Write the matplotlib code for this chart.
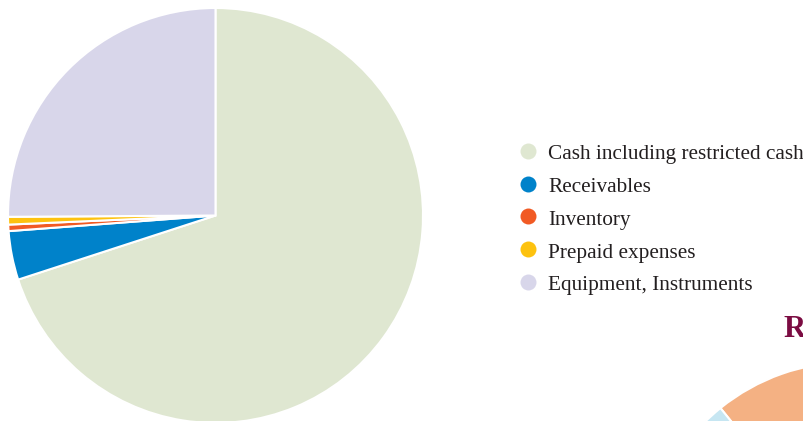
import matplotlib
matplotlib.use("Agg")
import matplotlib.pyplot as plt

# ---- data ----
categories = ["Cash including restricted cash", "Receivables", "Inventory",
              "Prepaid expenses", "Equipment, Instruments"]
values = [70.0, 3.8, 0.5, 0.6, 25.1]
colors = ["#dfe7d1", "#0082ca", "#f15a24", "#fdc20f", "#d8d6ea"]

# partially visible second chart (bottom right)
second_title = "R"
second_values = [10.8, 30.0, 59.2]
second_colors = ["#f4b183", "#c6e6f2", "#e9e9e9"]

W, H = 804, 421
fig = plt.figure(figsize=(W / 100, H / 100), dpi=100)
fig.patch.set_facecolor("white")

def px_axes(cx, cy, r):
    left = (cx - r) / W
    bottom = (H - (cy + r)) / H
    return fig.add_axes([left, bottom, 2 * r / W, 2 * r / H])

# main pie
ax = px_axes(215.5, 215.5, 207.5)
ax.pie(values, colors=colors, startangle=90, counterclock=False,
       wedgeprops=dict(edgecolor="white", linewidth=1.5))
ax.set_xlim(-1, 1)
ax.set_ylim(-1, 1)
ax.set_aspect("equal")
ax.axis("off")

# second pie (mostly off-canvas)
ax2 = px_axes(851, 570, 208)
ax2.pie(second_values, colors=second_colors, startangle=90, counterclock=True,
        wedgeprops=dict(edgecolor="white", linewidth=1.5))
ax2.set_xlim(-1, 1)
ax2.set_ylim(-1, 1)
ax2.set_aspect("equal")
ax2.axis("off")

# legend overlay in pixel coordinates
ov = fig.add_axes([0, 0, 1, 1])
ov.set_xlim(0, W)
ov.set_ylim(H, 0)
ov.axis("off")
ov.patch.set_alpha(0)

font = ["Liberation Serif", "DejaVu Serif"]
for i, (lab, col) in enumerate(zip(categories, colors)):
    yc = 150.7 + 32.8 * i
    ov.plot([528], [yc], marker="o", markersize=11.5, color=col,
            markeredgewidth=0, linestyle="none")
    ov.text(548, yc + 8.5, lab, fontsize=15.3, family=font, color="#231f20",
            va="baseline", ha="left")

ov.text(783, 337, second_title, fontsize=22, family=font, fontweight="bold",
        color="#7b0c42", va="baseline", ha="left")

fig.savefig("out.png", dpi=100)
